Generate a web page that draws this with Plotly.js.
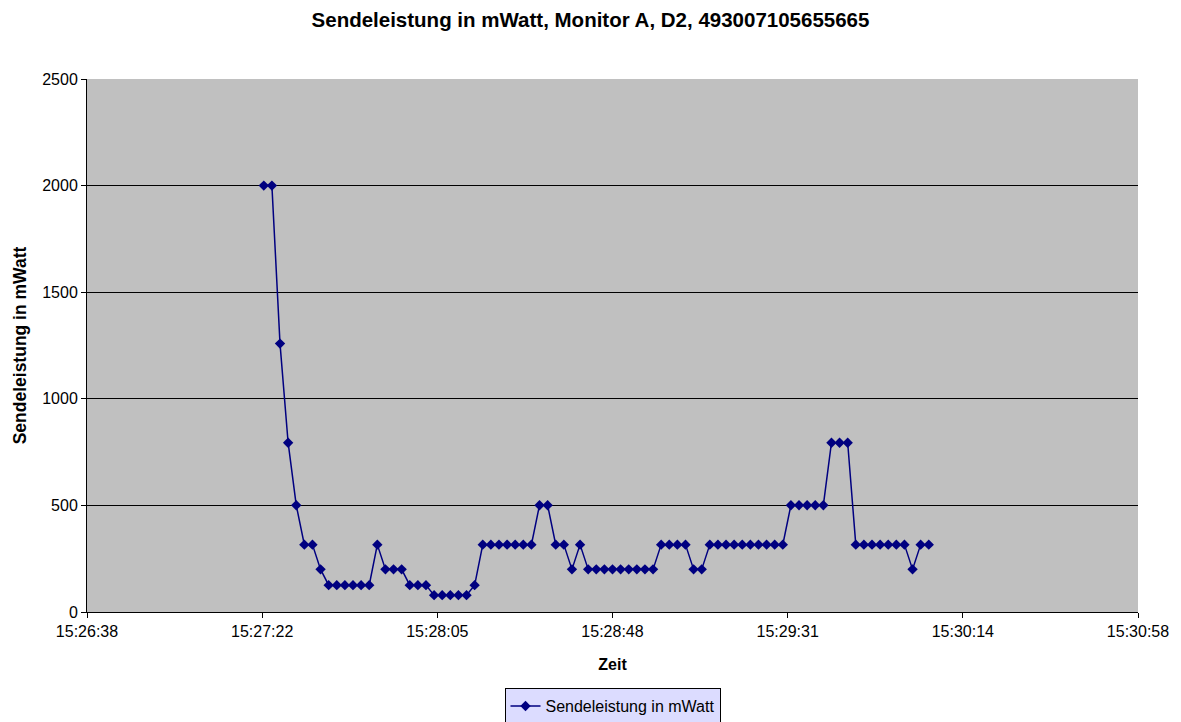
<!DOCTYPE html>
<html>
<head>
<meta charset="utf-8">
<script src="https://cdn.plot.ly/plotly-3.0.1.min.js"></script>
<style>html,body{margin:0;padding:0;background:#fff;}#chart{width:1181px;height:722px;}</style>
</head>
<body>
<div id="chart"></div>
<script>
// Time stamps of the samples (hh:mm:ss)
const times = [
  "15:27:22","15:27:24","15:27:26","15:27:28","15:27:30","15:27:32","15:27:34","15:27:36","15:27:38","15:27:40",
  "15:27:42","15:27:44","15:27:46","15:27:48","15:27:50","15:27:52","15:27:54","15:27:56","15:27:58","15:28:00",
  "15:28:02","15:28:04","15:28:06","15:28:08","15:28:10","15:28:12","15:28:14","15:28:16","15:28:18","15:28:20",
  "15:28:22","15:28:24","15:28:26","15:28:28","15:28:30","15:28:32","15:28:34","15:28:36","15:28:38","15:28:40",
  "15:28:42","15:28:44","15:28:46","15:28:48","15:28:50","15:28:52","15:28:54","15:28:56","15:28:58","15:29:00",
  "15:29:02","15:29:04","15:29:06","15:29:08","15:29:10","15:29:12","15:29:14","15:29:16","15:29:18","15:29:20",
  "15:29:22","15:29:24","15:29:26","15:29:28","15:29:30","15:29:32","15:29:34","15:29:36","15:29:38","15:29:40",
  "15:29:42","15:29:44","15:29:46","15:29:48","15:29:50","15:29:52","15:29:54","15:29:56","15:29:58","15:30:00",
  "15:30:02","15:30:04","15:30:06"
];
// Sendeleistung in mWatt
const power = [
  2000,2000,1259,794,501,316,316,200,126,126,
  126,126,126,126,316,200,200,200,126,126,
  126,79,79,79,79,79,126,316,316,316,
  316,316,316,316,501,501,316,316,200,316,
  200,200,200,200,200,200,200,200,200,316,
  316,316,316,200,200,316,316,316,316,316,
  316,316,316,316,316,501,501,501,501,501,
  794,794,794,316,316,316,316,316,316,316,
  200,316,316
];
// Axis tick positions (seconds of day) and labels
const xTickVals = [55598.4, 55641.6, 55684.8, 55728.0, 55771.2, 55814.4, 55857.6];
const xTickText = ["15:26:38","15:27:22","15:28:05","15:28:48","15:29:31","15:30:14","15:30:58"];
const yTickVals = [0, 500, 1000, 1500, 2000, 2500];

function toSec(t){ const p = t.split(":").map(Number); return p[0]*3600 + p[1]*60 + p[2]; }
const xs = times.map(toSec);

const font = "Liberation Sans, Arial, sans-serif";
const navy = "#000080";

const trace = {
  x: xs, y: power, type: "scatter", mode: "lines+markers",
  name: "Sendeleistung in mWatt",
  line: {color: navy, width: 1.5},
  marker: {symbol: "diamond", size: 8, color: navy},
  customdata: times,
  hovertemplate: "%{customdata}: %{y}<extra></extra>"
};

const layout = {
  width: 1181, height: 722,
  paper_bgcolor: "#ffffff", plot_bgcolor: "#c0c0c0",
  margin: {l: 87, r: 43, t: 79, b: 110},
  font: {family: font, size: 13, color: "#000"},
  title: {text: "<b>Sendeleistung in mWatt, Monitor A, D2, 493007105655665</b>",
          font: {family: font, size: 20.5, color: "#000"},
          x: 0.5, xanchor: "center", xref: "container", y: 0.973, yanchor: "middle"},
  xaxis: {
    range: [55598.4, 55857.6], tickmode: "array", tickvals: xTickVals, ticktext: xTickText,
    showgrid: false, zeroline: false, showline: true, linecolor: "#000", linewidth: 1,
    ticks: "outside", ticklen: 5, tickcolor: "#000", tickfont: {family: font, size: 16},
    title: {text: "<b>Zeit</b>", font: {family: font, size: 16}},
    automargin: false
  },
  yaxis: {
    range: [0, 2500], tickmode: "array", tickvals: yTickVals,
    showgrid: true, gridcolor: "#000", gridwidth: 1, zeroline: false,
    showline: true, linecolor: "#000", linewidth: 1,
    ticks: "outside", ticklen: 5, tickcolor: "#000", tickfont: {family: font, size: 16},
    title: {text: "<b>Sendeleistung in mWatt</b>", font: {family: font, size: 17.5}, standoff: 11},
    automargin: false
  },
  showlegend: true,
  legend: {orientation: "h", x: 0.5, xanchor: "center", xref: "paper",
           y: 0.047, yanchor: "top", yref: "container",
           bgcolor: "#dcdcff", bordercolor: "#000", borderwidth: 1,
           font: {family: font, size: 16}}
};

Plotly.newPlot("chart", [trace], layout, {displayModeBar: false, staticPlot: true});
</script>
</body>
</html>
